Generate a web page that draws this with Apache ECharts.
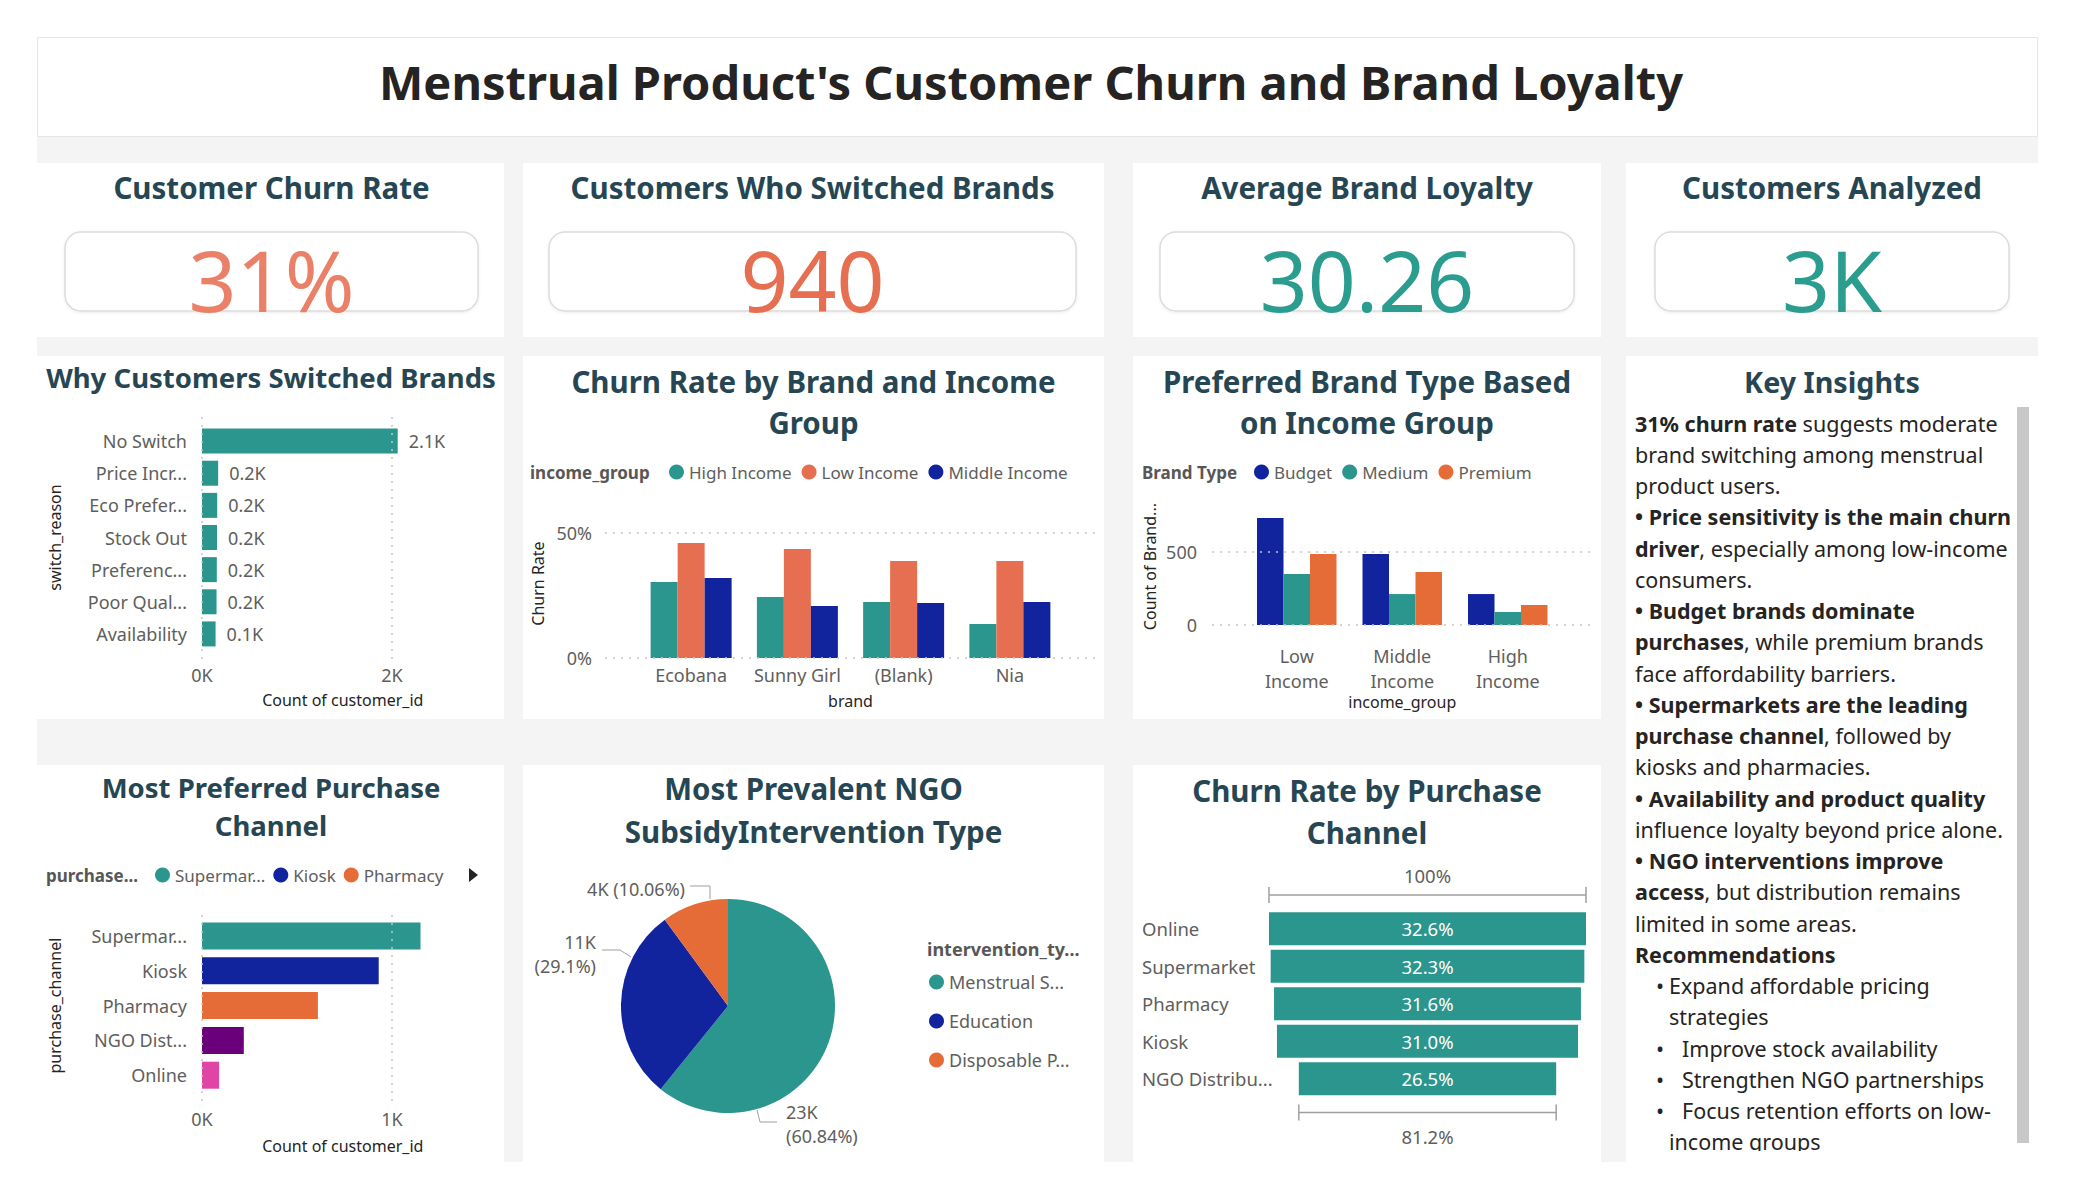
<!DOCTYPE html>
<html>
<head>
<meta charset="utf-8">
<title>Menstrual Product's Customer Churn and Brand Loyalty</title>
<script src="https://cdn.jsdelivr.net/npm/echarts@6/dist/echarts.min.js"></script>
<style>
  html, body { margin: 0; padding: 0; background: #fff; }
  #main { width: 2075px; height: 1200px; }
</style>
</head>
<body>
<div id="main"></div>
<script>
// ---- data ----
const churnedCustomers = 940;
const totalCustomers = 3000;
const avgBrandLoyalty = 30.26;

// why customers switched brands
const switchReasons = ['No Switch', 'Price Incr...', 'Eco Prefer...', 'Stock Out', 'Preferenc...', 'Poor Qual...', 'Availability'];
const switchCounts = [2060, 170, 160, 158, 156, 153, 143];

// churn rate (%) by brand and income group
const brands = ['Ecobana', 'Sunny Girl', '(Blank)', 'Nia'];
const churnHigh = [30.4, 24.4, 22.4, 13.6];
const churnLow = [46.0, 43.6, 38.8, 38.8];
const churnMiddle = [32.0, 20.8, 22.0, 22.4];

// preferred brand type by income group
const incomeGroups = ['Low Income', 'Middle Income', 'High Income'];
const budgetCounts = [733, 486, 212];
const mediumCounts = [349, 212, 89];
const premiumCounts = [486, 363, 137];

// most preferred purchase channel
const channels = ['Supermar...', 'Kiosk', 'Pharmacy', 'NGO Dist...', 'Online'];
const channelCounts = [1150, 930, 610, 220, 90];

// NGO intervention types
const interventions = ['Menstrual S...', 'Education', 'Disposable P...'];
const interventionValues = [23000, 11002, 3803];

// churn rate (%) by purchase channel
const funnelChannels = ['Online', 'Supermarket', 'Pharmacy', 'Kiosk', 'NGO Distribu...'];
const funnelRates = [32.64, 32.3, 31.6, 31.0, 26.5];

// key insights text (** marks bold)
const insightLines = [
  ['', '**31% churn rate** suggests moderate'],
  ['', 'brand switching among menstrual'],
  ['', 'product users.'],
  ['', '**• Price sensitivity is the main churn**'],
  ['', '**driver**, especially among low-income'],
  ['', 'consumers.'],
  ['', '**• Budget brands dominate**'],
  ['', '**purchases**, while premium brands'],
  ['', 'face affordability barriers.'],
  ['', '**• Supermarkets are the leading**'],
  ['', '**purchase channel**, followed by'],
  ['', 'kiosks and pharmacies.'],
  ['', '**• Availability and product quality**'],
  ['', 'influence loyalty beyond price alone.'],
  ['', '**• NGO interventions improve**'],
  ['', '**access**, but distribution remains'],
  ['', 'limited in some areas.'],
  ['', '**Recommendations**'],
  ['a', 'Expand affordable pricing'],
  ['c', 'strategies'],
  ['b', 'Improve stock availability'],
  ['b', 'Strengthen NGO partnerships'],
  ['b', 'Focus retention efforts on low-'],
  ['c', 'income groups']
];

// ---- styles ----
const FONT = '"Noto Sans", "DejaVu Sans", sans-serif';
const TEAL = '#2b968e', NAVY = '#12239e', ORANGE = '#e66c37', SALMON = '#e76f51';
const PURPLE = '#6b007b', PINK = '#e044a7';
const TITLE_C = '#264653', DARK = '#252423', GREY = '#605e5c', DOTS = '#c8c6c4';
const channelColors = [TEAL, NAVY, ORANGE, PURPLE, PINK];
const pieColors = [TEAL, NAVY, ORANGE];
const pieCenter = [728, 1006];

const chart = echarts.init(document.getElementById('main'), null, { renderer: 'svg' });

function txt(x, y, s, size, extra) {
  return {
    type: 'text', x: x, y: y, z: 10,
    style: Object.assign({
      text: s, fontSize: size, fontFamily: FONT, fill: DARK,
      align: 'center', verticalAlign: 'middle'
    }, extra || {})
  };
}

function richLine(markup) {
  const segs = [];
  markup.split('**').forEach((p, i) => { if (p) segs.push([i % 2 ? 'b' : 'n', p]); });
  return segs.map(s => '{' + s[0] + '|' + s[1] + '}').join('');
}

// dotted gridlines drawn on the axis scale; the pixel span only sets how far they run
function dotsH(vals, x0, x1) {
  return {
    silent: true, symbol: 'none', animation: false, label: { show: false },
    lineStyle: { color: DOTS, type: [2, 6], width: 1.5 },
    data: vals.map(v => [{ yAxis: v, x: x0 }, { yAxis: v, x: x1 }])
  };
}
function dotsV(vals, y0, y1) {
  return {
    silent: true, symbol: 'none', animation: false, label: { show: false },
    lineStyle: { color: DOTS, type: [2, 6], width: 1.5 },
    data: vals.map(v => [{ xAxis: v, y: y0 }, { xAxis: v, y: y1 }])
  };
}

// ---- panels & static text ----
const g = [];
g.push({ type: 'rect', z: -3, shape: { x: 37, y: 37, width: 2001, height: 1125 }, style: { fill: '#f4f4f4' } });
g.push({ type: 'rect', z: -2, shape: { x: 37.5, y: 37.5, width: 2000, height: 99 }, style: { fill: '#fff', stroke: '#e6e6e6', lineWidth: 1 } });
const panels = [
  [37, 163, 467, 174], [523, 163, 581, 174], [1133, 163, 468, 174], [1626, 163, 412, 174],
  [37, 356, 467, 363], [523, 356, 581, 363], [1133, 356, 468, 363], [1626, 356, 412, 806],
  [37, 765, 467, 397], [523, 765, 581, 397], [1133, 765, 468, 397]
];
panels.forEach(p => g.push({ type: 'rect', z: -2, shape: { x: p[0], y: p[1], width: p[2], height: p[3] }, style: { fill: '#fff' } }));

g.push(txt(1031, 82, "Menstrual Product's Customer Churn and Brand Loyalty", 47, { fontWeight: 'bold' }));

// KPI cards
const kpis = [
  ['Customer Churn Rate', Math.round(churnedCustomers / totalCustomers * 100) + '%', '#ea8068', [65, 232, 413, 79]],
  ['Customers Who Switched Brands', String(churnedCustomers), SALMON, [549, 232, 527, 79]],
  ['Average Brand Loyalty', avgBrandLoyalty.toFixed(2), '#2a9d8f', [1160, 232, 414, 79]],
  ['Customers Analyzed', Math.round(totalCustomers / 1000) + 'K', '#2a9d8f', [1655, 232, 354, 79]]
];
kpis.forEach(k => {
  const b = k[3], cx = b[0] + b[2] / 2;
  g.push(txt(cx, 187, k[0], 29.5, { fontWeight: 'bold', fill: TITLE_C }));
  g.push({
    type: 'rect', z: 2, shape: { x: b[0], y: b[1], width: b[2], height: b[3], r: 16 },
    style: { fill: '#fff', stroke: '#dedcda', lineWidth: 1.5, shadowBlur: 3, shadowOffsetY: 1, shadowColor: 'rgba(0,0,0,0.08)' }
  });
  g.push(txt(cx, 279, k[1], 84, { fill: k[2] }));
});

// visual titles
const titles = [
  ['Why Customers Switched Brands', 271, 377, 27.5, 0],
  ['Churn Rate by Brand and Income\nGroup', 813.5, 401.5, 29.5, 41],
  ['Preferred Brand Type Based\non Income Group', 1367, 401.5, 29.5, 41],
  ['Key Insights', 1832, 381, 28.7, 0],
  ['Most Preferred Purchase\nChannel', 271, 806, 27.5, 38],
  ['Most Prevalent NGO\nSubsidyIntervention Type', 813.5, 809.5, 29.5, 43],
  ['Churn Rate by Purchase\nChannel', 1367, 811, 29.5, 42]
];
titles.forEach(t => g.push(txt(t[1], t[2], t[0], t[3], { fontWeight: 'bold', fill: TITLE_C, lineHeight: t[4] || undefined })));

// legend titles
const legendTitle = { fontWeight: 'bold', fill: '#595756', align: 'left' };
g.push(txt(530, 472, 'income_group', 17, legendTitle));
g.push(txt(1142, 472, 'Brand Type', 17, legendTitle));
g.push(txt(46, 875, 'purchase...', 17, legendTitle));
g.push(txt(927, 949, 'intervention_ty...', 18, legendTitle));
g.push({ type: 'polygon', z: 10, shape: { points: [[469, 868], [478, 875], [469, 882]] }, style: { fill: DARK } });

// key insights
const KI_SIZE = 21.5;
const kiRich = {
  b: { fontWeight: 'bold', fontSize: KI_SIZE, fontFamily: FONT, fill: DARK },
  n: { fontWeight: 'normal', fontSize: KI_SIZE, fontFamily: FONT, fill: DARK }
};
insightLines.forEach((l, i) => {
  const y = 423 + i * 31.26;
  let x = 1635;
  if (l[0] === 'a' || l[0] === 'b') g.push(txt(1660, y, '•', KI_SIZE, {}));
  if (l[0] === 'a' || l[0] === 'c') x = 1669;
  if (l[0] === 'b') x = 1682;
  g.push({ type: 'text', x: x, y: y, z: 10, style: { text: richLine(l[1]), rich: kiRich, align: 'left', verticalAlign: 'middle' } });
});
g.push({ type: 'rect', z: 11, shape: { x: 2017, y: 407, width: 12, height: 736 }, style: { fill: '#c8c8c8' } });
g.push({ type: 'rect', z: 12, shape: { x: 1626, y: 1151, width: 412, height: 49 }, style: { fill: '#fff' } });

// ---- charts ----
const axisLabel = { fontSize: 18, color: GREY, fontFamily: FONT };
const axisName = { fontSize: 16, color: DARK, fontFamily: FONT };
const funnelMax = Math.max.apply(null, funnelRates);

const option = {
  animation: false,
  textStyle: { fontFamily: FONT },
  graphic: { elements: g },
  grid: [
    { left: 202, top: 425, width: 237.5, height: 225, outerBoundsMode: 'none' },
    { left: 638, top: 533, width: 425, height: 125, outerBoundsMode: 'none' },
    { left: 1244, top: 508.2, width: 316.5, height: 116.8, outerBoundsMode: 'none' },
    { left: 202, top: 918.6, width: 237.5, height: 174, outerBoundsMode: 'none' },
    { left: 1269, top: 910, width: 317, height: 187.5, outerBoundsMode: 'none' }
  ],
  legend: [
    {
      data: ['High Income', 'Low Income', 'Middle Income'], left: 669, top: 462, padding: 0,
      icon: 'circle', itemWidth: 15, itemHeight: 15, itemGap: 10,
      textStyle: { fontSize: 17, color: GREY, lineHeight: 20 }
    },
    {
      data: ['Budget', 'Medium', 'Premium'], left: 1254, top: 462, padding: 0,
      icon: 'circle', itemWidth: 15, itemHeight: 15, itemGap: 10,
      textStyle: { fontSize: 17, color: GREY, lineHeight: 20 }
    },
    {
      data: channels.slice(0, 3), left: 155, top: 865, padding: 0,
      icon: 'circle', itemWidth: 15, itemHeight: 15, itemGap: 8,
      textStyle: { fontSize: 17, color: GREY, lineHeight: 20 }
    },
    {
      data: interventions, orient: 'vertical', left: 929, top: 972, padding: 0,
      icon: 'circle', itemWidth: 15, itemHeight: 15, itemGap: 19,
      textStyle: { fontSize: 18, color: GREY, lineHeight: 20 }
    }
  ],
  xAxis: [
    {
      gridIndex: 0, type: 'value', min: 0, max: 2500, interval: 2000, z: 5,
      axisLine: { show: false }, axisTick: { show: false }, splitLine: { show: false },
      axisLabel: Object.assign({ margin: 16, showMaxLabel: false, formatter: v => (v / 1000) + 'K' }, axisLabel),
      name: 'Count of customer_id', nameLocation: 'middle', nameGap: 42,
      nameTextStyle: Object.assign({ padding: [0, 0, 0, 44] }, axisName)
    },
    {
      gridIndex: 1, type: 'category', data: brands, z: 5,
      axisLine: { show: false }, axisTick: { show: false },
      axisLabel: Object.assign({ margin: 8, interval: 0 }, axisLabel),
      name: 'brand', nameLocation: 'middle', nameGap: 35, nameTextStyle: axisName
    },
    {
      gridIndex: 2, type: 'category', data: incomeGroups, z: 5,
      axisLine: { show: false }, axisTick: { show: false },
      axisLabel: Object.assign({ margin: 18, lineHeight: 25, interval: 0, formatter: v => v.replace(' ', '\n') }, axisLabel),
      name: 'income_group', nameLocation: 'middle', nameGap: 69, nameTextStyle: axisName
    },
    {
      gridIndex: 3, type: 'value', min: 0, max: 1250, interval: 1000, z: 5,
      axisLine: { show: false }, axisTick: { show: false }, splitLine: { show: false },
      axisLabel: Object.assign({ margin: 17, showMaxLabel: false, formatter: v => (v / 1000) + 'K' }, axisLabel),
      name: 'Count of customer_id', nameLocation: 'middle', nameGap: 45,
      nameTextStyle: Object.assign({ padding: [0, 0, 0, 44] }, axisName)
    },
    { gridIndex: 4, type: 'value', min: 0, max: funnelMax, show: false }
  ],
  yAxis: [
    {
      gridIndex: 0, type: 'category', data: switchReasons, inverse: true, z: 5,
      axisLine: { show: false }, axisTick: { show: false },
      axisLabel: Object.assign({ margin: 15, interval: 0 }, axisLabel),
      name: 'switch_reason', nameLocation: 'middle', nameGap: 139, nameTextStyle: axisName
    },
    {
      gridIndex: 1, type: 'value', min: 0, max: 50, interval: 50, z: 5,
      axisLine: { show: false }, axisTick: { show: false }, splitLine: { show: false },
      axisLabel: Object.assign({ margin: 46, formatter: v => v + '%' }, axisLabel),
      name: 'Churn Rate', nameLocation: 'middle', nameGap: 92,
      nameTextStyle: Object.assign({ padding: [0, 0, 0, 24] }, axisName)
    },
    {
      gridIndex: 2, type: 'value', min: 0, max: 800, interval: 500, z: 5,
      axisLine: { show: false }, axisTick: { show: false }, splitLine: { show: false },
      axisLabel: Object.assign({ margin: 47, showMaxLabel: false }, axisLabel),
      name: 'Count of Brand...', nameLocation: 'middle', nameGap: 86, nameTextStyle: axisName
    },
    {
      gridIndex: 3, type: 'category', data: channels, inverse: true, z: 5,
      axisLine: { show: false }, axisTick: { show: false },
      axisLabel: Object.assign({ margin: 15, interval: 0 }, axisLabel),
      name: 'purchase_channel', nameLocation: 'middle', nameGap: 139, nameTextStyle: axisName
    },
    {
      gridIndex: 4, type: 'category', data: funnelChannels, inverse: true, z: 5,
      axisLine: { show: false }, axisTick: { show: false },
      axisLabel: { margin: 127, align: 'left', interval: 0, fontSize: 18.5, color: GREY, fontFamily: FONT }
    }
  ],
  series: [
    {
      type: 'bar', name: 'Count of customer_id', xAxisIndex: 0, yAxisIndex: 0,
      data: switchCounts, barWidth: 25, itemStyle: { color: TEAL },
      label: { show: true, position: 'right', distance: 11, fontSize: 18, color: GREY, formatter: p => (p.value / 1000).toFixed(1) + 'K' },
      markLine: dotsV([0, 2000], 417, 660)
    },
    {
      type: 'bar', name: 'High Income', xAxisIndex: 1, yAxisIndex: 1, data: churnHigh, barWidth: 27, barGap: '0%',
      itemStyle: { color: TEAL }, markLine: dotsH([0, 50], 605, 1100)
    },
    { type: 'bar', name: 'Low Income', xAxisIndex: 1, yAxisIndex: 1, data: churnLow, barWidth: 27, barGap: '0%', itemStyle: { color: SALMON } },
    { type: 'bar', name: 'Middle Income', xAxisIndex: 1, yAxisIndex: 1, data: churnMiddle, barWidth: 27, barGap: '0%', itemStyle: { color: NAVY } },
    {
      type: 'bar', name: 'Budget', xAxisIndex: 2, yAxisIndex: 2, data: budgetCounts, barWidth: 26.5, barGap: '0%',
      itemStyle: { color: NAVY }, markLine: dotsH([0, 500], 1212, 1590)
    },
    { type: 'bar', name: 'Medium', xAxisIndex: 2, yAxisIndex: 2, data: mediumCounts, barWidth: 26.5, barGap: '0%', itemStyle: { color: TEAL } },
    { type: 'bar', name: 'Premium', xAxisIndex: 2, yAxisIndex: 2, data: premiumCounts, barWidth: 26.5, barGap: '0%', itemStyle: { color: ORANGE } }
  ].concat(channels.map((name, i) => ({
    type: 'bar', name: name, xAxisIndex: 3, yAxisIndex: 3, stack: 'channel', barWidth: 27,
    itemStyle: { color: channelColors[i] },
    data: channels.map((c, j) => (j === i ? channelCounts[i] : '-')),
    markLine: i === 0 ? dotsV([0, 1000], 915, 1103) : undefined
  }))).concat([
    {
      type: 'bar', name: 'offset', xAxisIndex: 4, yAxisIndex: 4, stack: 'funnel', barWidth: 33, silent: true,
      itemStyle: { color: 'rgba(0,0,0,0)' },
      data: funnelRates.map(v => (funnelMax - v) / 2)
    },
    {
      type: 'bar', name: 'Churn Rate', xAxisIndex: 4, yAxisIndex: 4, stack: 'funnel', barWidth: 33,
      itemStyle: { color: TEAL },
      label: { show: true, position: 'inside', color: '#fff', fontSize: 18.5, formatter: p => p.value.toFixed(1) + '%' },
      data: funnelRates
    },
    {
      type: 'pie', name: 'intervention_type', center: pieCenter, radius: 107,
      startAngle: 90, clockwise: true, avoidLabelOverlap: false,
      itemStyle: { borderWidth: 0 },
      data: interventions.map((n, i) => ({ name: n, value: interventionValues[i], itemStyle: { color: pieColors[i] } })),
      label: {
        show: true, position: 'outside', color: GREY, fontSize: 18, lineHeight: 24,
        formatter: p => {
          const k = Math.round(p.value / 1000) + 'K';
          const pct = '(' + parseFloat(p.percent.toFixed(2)) + '%)';
          return p.percent < 15 ? k + ' ' + pct : k + '\n' + pct;
        }
      },
      labelLine: { show: true, lineStyle: { color: '#a19f9d', width: 1 } },
      labelLayout: p => {
        const spots = [
          { dx: 58, dy: 118, align: 'left', line: [[29, 104], [32, 116], [49, 116]] },
          { dx: -132, dy: -52, align: 'right', line: [[-97, -49], [-108, -56], [-126, -56]] },
          { dx: -43, dy: -117, align: 'right', line: [[-18, -107], [-18, -120], [-38, -120]] }
        ];
        const s = spots[p.dataIndex];
        return {
          x: pieCenter[0] + s.dx, y: pieCenter[1] + s.dy, align: s.align, verticalAlign: 'middle',
          labelLinePoints: s.line.map(q => [pieCenter[0] + q[0], pieCenter[1] + q[1]])
        };
      }
    }
  ])
};

chart.setOption(option);

// funnel brackets placed from the funnel grid's own scales
const last = funnelRates.length - 1;
const f0 = chart.convertToPixel({ gridIndex: 4 }, [0, 0]);
const f0r = chart.convertToPixel({ gridIndex: 4 }, [funnelMax, 0]);
const f1 = chart.convertToPixel({ gridIndex: 4 }, [0, 1]);
const band = f1[1] - f0[1];
const fl = chart.convertToPixel({ gridIndex: 4 }, [(funnelMax - funnelRates[last]) / 2, last]);
const flr = chart.convertToPixel({ gridIndex: 4 }, [(funnelMax + funnelRates[last]) / 2, last]);
const topY = f0[1] - band / 2 - 15;
const botY = fl[1] + band / 2 + 15;
function bracket(x0, x1, y) {
  const ls = { stroke: '#a19f9d', lineWidth: 1.5 };
  return [
    { type: 'line', z: 10, shape: { x1: x0, y1: y, x2: x1, y2: y }, style: ls },
    { type: 'line', z: 10, shape: { x1: x0, y1: y - 8, x2: x0, y2: y + 8 }, style: ls },
    { type: 'line', z: 10, shape: { x1: x1, y1: y - 8, x2: x1, y2: y + 8 }, style: ls }
  ];
}
const midX = (f0[0] + f0r[0]) / 2;
const extra = bracket(f0[0], f0r[0], topY).concat(bracket(fl[0], flr[0], botY));
extra.push(txt(midX, topY - 20, Math.round(funnelRates[0] / funnelRates[0] * 100) + '%', 18.5, { fill: GREY }));
extra.push(txt(midX, botY + 24, (funnelRates[last] / funnelRates[0] * 100).toFixed(1) + '%', 18.5, { fill: GREY }));
chart.setOption({ graphic: { elements: g.concat(extra) } });
</script>
</body>
</html>
